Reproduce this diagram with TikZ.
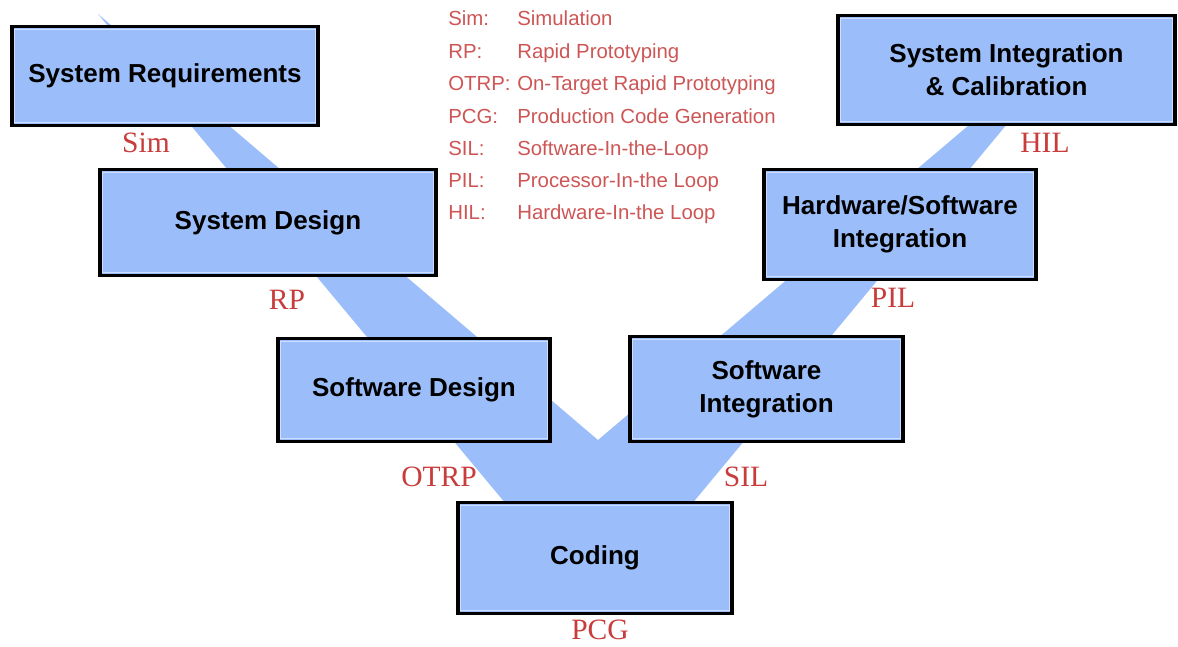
\documentclass[tikz,border=0pt]{standalone}
\usepackage{fontspec}
\setmainfont{Liberation Serif}
\setsansfont{Liberation Sans}
\definecolor{vblue}{RGB}{155,190,250}
\definecolor{vinner}{RGB}{205,222,255}
\definecolor{lblred}{RGB}{200,60,60}
\definecolor{legred}{RGB}{205,85,85}
\tikzset{
  box/.style={draw=black, line width=2.4pt, fill=vblue, align=center, inner sep=0pt,
    text=black, font=\sffamily\bfseries\fontsize{18.5}{23.5}\selectfont,
    path picture={\draw[vinner, line width=0.8pt]
      ([shift={(1.9pt,-1.9pt)}]path picture bounding box.north west) rectangle
      ([shift={(-1.9pt,1.9pt)}]path picture bounding box.south east);}},
  lbl/.style={text=lblred, font=\rmfamily\fontsize{21}{24}\selectfont, inner sep=0pt},
  leg/.style={text=legred, font=\sffamily\fontsize{14.5}{16}\selectfont, inner sep=0pt, anchor=base west},
  band/.style={fill=vblue, draw=none}
}
\newcommand\mkbox[6]{\node[box, minimum width={(#4-#2)*0.025cm}, minimum height={(#5-#3)*0.025cm}] (#1) at ({(#2+#4)/2},{(#3+#5)/2+1.5}) {#6};}
\begin{document}
\begin{tikzpicture}[x=0.025cm, y=-0.025cm]
\useasboundingbox (0,0) rectangle (1178,646);
% V band
\coordinate (ltip) at (98,14);
\coordinate (lbot) at (536,540);
\coordinate (rbot) at (662,540);
\coordinate (rtip) at (1095,18);
\coordinate (notch) at (598,440);
\fill[band] (ltip) -- (lbot) -- (rbot) -- (rtip) -- (notch) -- cycle;
% boxes
\mkbox{req}{12}{25}{318}{124}{System Requirements}
\mkbox{sysdes}{100}{168}{436}{274}{System Design}
\mkbox{swdes}{278}{337}{550}{440}{Software Design}
\mkbox{coding}{458}{501}{732}{612}{Coding}
\mkbox{swint}{630}{335}{903}{440}{Software\\Integration}
\mkbox{hwsw}{764}{168}{1036}{278}{Hardware/Software\\Integration}
\mkbox{sysint}{838}{14}{1175}{123}{System Integration\\\& Calibration}
% labels
\node[lbl] (lsim) at (146,143) {Sim};
\node[lbl] (lrp) at (287,300) {RP};
\node[lbl] (lotrp) at (439,477) {OTRP};
\node[lbl] (lpcg) at (600,630) {PCG};
\node[lbl] (lsil) at (746,477) {SIL};
\node[lbl] (lpil) at (893,298) {PIL};
\node[lbl] (lhil) at (1045,143) {HIL};
% legend
\node[leg] (a1) at (448,25) {Sim:};
\node[leg] (b1) at (517,25) {Simulation};
\node[leg] (a2) at (448,58) {RP:};
\node[leg] (b2) at (517,58) {Rapid Prototyping};
\node[leg] (a3) at (448,90) {OTRP:};
\node[leg] (b3) at (517,90) {On-Target Rapid Prototyping};
\node[leg] (a4) at (448,123) {PCG:};
\node[leg] (b4) at (517,123) {Production Code Generation};
\node[leg] (a5) at (448,155) {SIL:};
\node[leg] (b5) at (517,155) {Software-In-the-Loop};
\node[leg] (a6) at (448,187) {PIL:};
\node[leg] (b6) at (517,187) {Processor-In-the Loop};
\node[leg] (a7) at (448,219) {HIL:};
\node[leg] (b7) at (517,219) {Hardware-In-the Loop};
\end{tikzpicture}
\end{document}
